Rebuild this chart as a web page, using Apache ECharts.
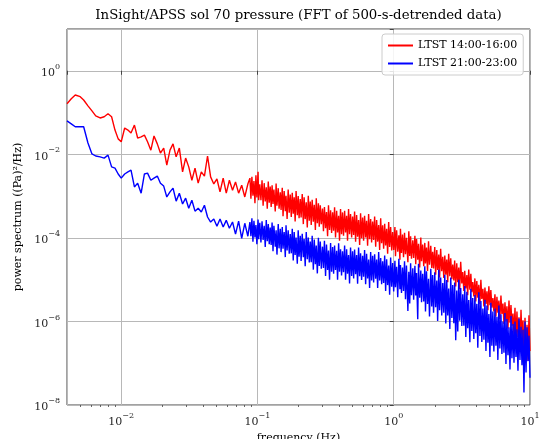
<!DOCTYPE html>
<html><head><meta charset="utf-8">
<script src="https://cdn.jsdelivr.net/npm/echarts@6/dist/echarts.min.js"></script>
<style>html,body{margin:0;padding:0;background:#fff}#c{width:539px;height:439px}</style>
</head><body><div id="c"></div>
<script>
// frequency bins (Hz)
const freqHz = [
0.0040,0.0043,0.0046,0.0050,0.0053,0.0057,0.0061,0.0065,0.0070,0.0075,
0.0080,0.0085,0.0090,0.0095,0.0100,0.0106,0.0112,0.0118,0.0125,0.0132,
0.0140,0.0148,0.0156,0.0165,0.0174,0.0184,0.0194,0.0205,0.0216,0.0228,
0.0240,0.0253,0.0267,0.0282,0.0297,0.0313,0.0330,0.0348,0.0367,0.0387,
0.0408,0.0430,0.0453,0.0478,0.0504,0.0531,0.0560,0.0590,0.0622,0.0656,
0.0690,0.0727,0.0766,0.0807,0.0850,
0.0880,0.0895,0.0910,0.0926,0.0942,0.0958,0.0974,0.0990,0.1010,0.1020,
0.104,0.106,0.108,0.110,0.112,0.114,0.116,0.118,0.120,0.122,
0.124,0.126,0.128,0.130,0.132,0.135,0.137,0.139,0.142,0.144,
0.147,0.149,0.152,0.154,0.157,0.160,0.162,0.165,0.168,0.171,
0.174,0.177,0.180,0.183,0.186,0.189,0.192,0.196,0.199,0.202,
0.206,0.209,0.213,0.217,0.220,0.224,0.228,0.232,0.236,0.240,
0.244,0.248,0.252,0.257,0.261,0.266,0.270,0.275,0.280,0.284,
0.289,0.294,
0.300,0.305,0.310,0.316,0.321,0.327,0.332,0.338,0.344,0.350,
0.356,0.362,0.368,0.374,0.381,0.387,0.394,0.400,0.407,0.414,
0.421,0.428,0.436,0.443,0.451,0.458,0.466,0.474,0.482,0.491,
0.499,0.508,0.516,0.525,0.534,0.543,0.552,0.562,0.571,0.581,
0.591,0.601,0.611,0.622,0.632,0.643,0.654,0.665,0.677,0.688,
0.700,0.712,0.724,0.737,0.749,0.762,0.775,0.788,0.802,0.815,
0.829,0.843,0.858,0.872,0.887,0.902,0.918,0.933,0.949,0.966,
0.982,0.999,1.02,1.03,1.05,1.07,1.09,1.11,1.12,1.14,
1.16,1.18,1.20,1.22,1.24,1.27,1.29,1.31,1.33,1.35,
1.38,1.40,1.43,1.45,1.47,1.50,1.52,1.55,1.58,1.60,
1.63,1.66,1.69,1.71,1.74,1.77,1.80,1.83,1.87,1.90,
1.93,1.96,2.00,2.03,2.07,2.10,2.14,2.17,2.21,2.25,
2.29,2.33,2.37,2.41,2.45,2.49,2.53,2.58,2.62,2.67,
2.71,2.76,2.80,2.85,2.90,2.95,3.00,3.05,3.10,3.16,
3.21,3.27,3.32,3.38,3.44,3.49,3.55,3.62,3.68,3.74,
3.80,3.87,3.94,4.00,4.07,4.14,4.21,4.29,4.36,4.43,
4.51,4.59,4.67,4.75,4.83,4.91,4.99,5.08,5.16,5.25,
5.34,5.43,5.53,5.62,5.72,5.81,5.91,6.01,6.12,6.22,
6.33,6.44,6.55,6.66,6.77,6.89,7.01,7.13,7.25,7.37,
7.50,7.63,7.76,7.89,8.02,8.16,8.30,8.44,8.59,8.73,
8.88,9.03,9.19,9.35,9.51,9.67,9.83,10.0
];
// log10 of power spectrum ((Pa)^2/Hz), LTST 14:00-16:00
const redLog10 = [
-0.79,-0.67,-0.58,-0.62,-0.70,-0.84,-0.96,-1.08,-1.13,-1.10,
-1.03,-1.10,-1.42,-1.63,-1.70,-1.37,-1.42,-1.49,-1.30,-1.61,
-1.58,-1.54,-1.70,-1.90,-1.56,-1.75,-1.97,-1.85,-2.26,-1.90,
-1.75,-2.06,-1.85,-2.42,-2.09,-2.30,-2.62,-2.33,-2.69,-2.42,
-2.52,-2.04,-2.54,-2.71,-2.59,-2.90,-2.57,-2.93,-2.62,-2.86,
-2.66,-2.93,-2.74,-3.02,-2.71,
-2.57,-3.06,-2.54,-2.99,-2.64,-3.17,-2.50,-3.03,-2.42,-3.10,
-2.72,-3.10,-2.62,-3.23,-2.69,-3.13,-2.79,-3.30,-2.65,-3.16,
-2.77,-3.26,-2.74,-3.19,-2.84,-3.37,-2.70,-3.23,-2.81,-3.30,
-2.91,-3.33,-2.80,-3.48,-2.88,-3.36,-2.99,-3.55,-2.84,-3.40,
-2.96,-3.50,-2.92,-3.42,-3.03,-3.61,-2.88,-3.46,-3.00,-3.53,
-3.07,-3.51,-2.95,-3.67,-3.03,-3.55,-3.15,-3.75,-2.99,-3.59,
-3.13,-3.69,-3.09,-3.61,-3.21,-3.81,-3.05,-3.65,-3.17,-3.73,
-3.22,-3.67,
-3.30,-3.84,-3.26,-3.77,-3.38,-3.96,-3.22,-3.81,-3.34,-3.88,
-3.39,-3.83,-3.27,-3.99,-3.35,-3.87,-3.47,-4.07,-3.31,-3.91,
-3.39,-3.95,-3.35,-3.87,-3.47,-4.07,-3.31,-3.91,-3.43,-3.99,
-3.49,-3.93,-3.37,-4.09,-3.45,-3.97,-3.57,-4.17,-3.41,-4.01,
-3.51,-4.07,-3.47,-3.99,-3.59,-4.19,-3.43,-4.03,-3.55,-4.11,
-3.61,-4.05,-3.49,-4.21,-3.57,-4.09,-3.69,-4.29,-3.53,-4.13,
-3.70,-4.26,-3.66,-4.18,-3.78,-4.38,-3.62,-4.22,-3.74,-4.30,
-3.86,-4.29,-3.74,-4.44,-3.82,-4.33,-3.94,-4.52,-3.78,-4.36,
-3.92,-4.46,-3.88,-4.39,-4.00,-4.58,-3.84,-4.43,-3.96,-4.50,
-4.06,-4.48,-3.95,-4.63,-4.03,-4.52,-4.14,-4.71,-3.99,-4.56,
-4.16,-4.68,-4.12,-4.61,-4.23,-4.79,-4.08,-4.64,-4.19,-4.72,
-4.33,-4.73,-4.22,-4.88,-4.29,-4.77,-4.40,-4.95,-4.26,-4.80,
-4.45,-4.96,-4.42,-4.88,-4.52,-5.06,-4.38,-4.92,-4.49,-4.99,
-4.64,-5.02,-4.54,-5.16,-4.61,-5.06,-4.71,-5.23,-4.57,-5.09,
-4.82,-5.27,-4.79,-5.21,-4.89,-5.37,-4.76,-5.24,-4.86,-5.30,
-5.06,-5.40,-4.97,-5.52,-5.03,-5.43,-5.12,-5.58,-5.00,-5.46,
-5.22,-5.64,-5.19,-5.58,-5.28,-5.73,-5.16,-5.61,-5.25,-5.67,
-5.44,-5.76,-5.35,-5.88,-5.41,-5.79,-5.50,-5.94,-5.38,-5.82,
-5.57,-6.06,-5.54,-5.99,-5.64,-6.17,-5.50,-6.03,-5.61,-6.10,
-5.81,-6.32,-5.67,-6.51,-5.76,-6.37,-5.90,-6.60,-5.72,-6.41,
-5.97,-6.77,-5.91,-6.66,-6.08,-6.94,-5.85,-6.71
];
// log10 of power spectrum ((Pa)^2/Hz), LTST 21:00-23:00
const blueLog10 = [
-1.20,-1.27,-1.34,-1.34,-1.34,-1.73,-1.99,-2.04,-2.06,-2.09,
-2.02,-2.30,-2.33,-2.47,-2.57,-2.47,-2.42,-2.38,-2.78,-2.69,
-2.93,-2.47,-2.45,-2.62,-2.57,-2.52,-2.69,-2.76,-3.02,-2.90,
-2.81,-3.12,-2.93,-3.19,-3.05,-3.29,-3.10,-3.36,-3.29,-3.38,
-3.22,-3.50,-3.62,-3.55,-3.72,-3.55,-3.74,-3.58,-3.77,-3.62,
-3.91,-3.60,-4.01,-3.65,-3.96,
-3.62,-3.96,-3.53,-4.09,-3.59,-3.99,-3.69,-4.15,-3.56,-4.03,
-3.64,-4.11,-3.60,-4.05,-3.71,-4.22,-3.57,-4.08,-3.67,-4.15,
-3.75,-4.17,-3.63,-4.32,-3.71,-4.21,-3.82,-4.40,-3.67,-4.25,
-3.78,-4.34,-3.74,-4.26,-3.86,-4.46,-3.70,-4.30,-3.82,-4.38,
-3.91,-4.37,-3.78,-4.54,-3.86,-4.41,-3.99,-4.62,-3.82,-4.45,
-3.95,-4.55,-3.90,-4.46,-4.03,-4.68,-3.86,-4.51,-3.99,-4.59,
-4.09,-4.58,-3.95,-4.76,-4.04,-4.63,-4.18,-4.85,-4.00,-4.67,
-4.09,-4.74,
-4.21,-4.72,-4.07,-4.91,-4.16,-4.77,-4.30,-5.00,-4.12,-4.81,
-4.22,-4.86,-4.18,-4.77,-4.31,-5.00,-4.13,-4.81,-4.27,-4.90,
-4.32,-4.82,-4.18,-5.00,-4.27,-4.86,-4.41,-5.09,-4.23,-4.91,
-4.32,-4.97,-4.28,-4.87,-4.41,-5.10,-4.23,-4.92,-4.37,-5.01,
-4.43,-4.93,-4.29,-5.11,-4.38,-4.97,-4.52,-5.20,-4.34,-5.02,
-4.43,-5.07,-4.39,-4.98,-4.52,-5.20,-4.34,-5.02,-4.48,-5.11,
-4.56,-5.08,-4.42,-5.27,-4.51,-5.13,-4.66,-5.36,-4.47,-5.17,
-4.60,-5.28,-4.55,-5.18,-4.69,-5.42,-4.50,-5.23,-4.65,-5.32,
-4.71,-5.27,-4.56,-5.47,-4.66,-5.75,-4.81,-5.57,-4.61,-5.37,
-4.73,-5.48,-4.67,-5.38,-4.84,-5.95,-4.62,-5.43,-4.78,-5.54,
-4.86,-5.52,-4.68,-5.76,-4.80,-5.58,-4.98,-5.88,-4.74,-5.64,
-4.89,-5.79,-4.82,-5.66,-5.02,-5.99,-4.76,-5.73,-4.95,-5.86,
-5.08,-5.79,-4.88,-6.05,-5.01,-5.86,-5.21,-6.18,-4.95,-5.92,
-5.13,-6.04,-5.07,-6.45,-5.26,-6.24,-5.00,-5.98,-5.20,-6.11,
-5.35,-6.10,-5.15,-6.37,-5.29,-6.16,-5.49,-6.50,-5.22,-6.23,
-5.44,-6.42,-5.37,-6.28,-5.58,-6.63,-5.30,-6.35,-5.51,-6.49,
-5.69,-6.44,-5.48,-6.71,-5.62,-6.51,-5.82,-6.85,-5.55,-6.58,
-5.76,-6.72,-5.69,-6.58,-5.89,-6.92,-5.62,-6.65,-5.83,-6.78,
-6.00,-6.75,-5.80,-7.02,-5.94,-6.81,-6.14,-7.15,-5.87,-6.88,
-6.06,-6.99,-6.00,-6.85,-6.19,-7.18,-5.93,-6.92,-6.13,-7.05,
-6.20,-7.70,-6.00,-7.22,-6.14,-6.95,-6.34,-7.35
];
const seriesNames = ['LTST 14:00-16:00', 'LTST 21:00-23:00'];
const seriesColors = ['#ff0000', '#0000ff'];
const titleText = 'InSight/APSS sol 70 pressure (FFT of 500-s-detrended data)';
const xAxisName = 'frequency (Hz)';
const yAxisName = 'power spectrum ((Pa)\u00B2/Hz)';
const xRange = [0.004, 10];
const yExpRange = [-8, 1];
const yExpStep = 2;
// minor tick positions on the frequency axis (Hz)
const xMinorTicks = [0.005,0.006,0.007,0.008,0.009,0.02,0.03,0.04,0.05,0.06,0.07,0.08,0.09,
  0.2,0.3,0.4,0.5,0.6,0.7,0.8,0.9,2,3,4,5,6,7,8,9];

const FONT = 'DejaVu Serif';
function supLabel(exp) {
  const e = exp < 0 ? '\u2212' + (-exp) : String(exp);
  return '{b|10}{e|' + e + '}';
}
const richLab = {
  b: {fontFamily: FONT, fontSize: 11, color: '#262626', lineHeight: 16, verticalAlign: 'bottom'},
  e: {fontFamily: FONT, fontSize: 8, color: '#262626', lineHeight: 16, verticalAlign: 'top'}
};

const chart = echarts.init(document.getElementById('c'), null, {renderer: 'canvas'});
chart.setOption({
  animation: false,
  backgroundColor: '#ffffff',
  graphic: [{
    type: 'text', x: 298.5, y: 16, silent: true,
    style: {text: titleText, font: '13.3px "DejaVu Serif"', fill: '#000', align: 'center', verticalAlign: 'middle'}
  }],
  grid: {left: 67, right: 9, top: 29, bottom: 34, containLabel: false, outerBoundsMode: 'none',
         show: true, borderColor: '#444', borderWidth: 1, backgroundColor: 'transparent'},
  legend: {
    orient: 'vertical', left: 382, top: 34, itemWidth: 25, itemHeight: 2, itemGap: 7,
    padding: [6, 6, 6, 6], backgroundColor: 'rgba(255,255,255,0.85)', borderColor: '#cccccc',
    borderWidth: 1, borderRadius: 3, icon: 'rect',
    textStyle: {fontFamily: FONT, fontSize: 11, color: '#000'},
    data: seriesNames
  },
  xAxis: [{
    type: 'log', min: xRange[0], max: xRange[1], logBase: 10, position: 'bottom',
    name: xAxisName, nameLocation: 'middle', nameGap: 26,
    nameTextStyle: {fontFamily: FONT, fontSize: 11, color: '#000'},
    axisLine: {show: false},
    axisTick: {show: true, inside: false, length: 4, lineStyle: {color: '#444'}},
    splitLine: {show: true, lineStyle: {color: '#b8b8b8', width: 1}},
    axisLabel: {
      margin: 7, rich: richLab,
      formatter: function (v) {
        const l = Math.log10(v);
        const r = Math.round(l);
        if (Math.abs(l - r) > 1e-6) return '';
        return supLabel(r);
      }
    }
  }, {
    // overlay axis (log10 units) carrying only the minor ticks
    type: 'value', position: 'bottom', offset: 0,
    min: Math.log10(xRange[0]), max: Math.log10(xRange[1]),
    axisLine: {show: false}, splitLine: {show: false}, axisLabel: {show: false},
    axisTick: {show: true, inside: false, length: 2, lineStyle: {color: '#444', width: 0.8},
               customValues: xMinorTicks.map(v => Math.log10(v))}
  }],
  yAxis: {
    type: 'value', min: yExpRange[0], max: yExpRange[1], interval: yExpStep,
    name: yAxisName, nameLocation: 'middle', nameGap: 40,
    nameTextStyle: {fontFamily: FONT, fontSize: 11, color: '#000'},
    axisLine: {show: false},
    axisTick: {show: true, inside: false, length: 4, lineStyle: {color: '#444'}},
    splitLine: {show: true, lineStyle: {color: '#b8b8b8', width: 1}},
    axisLabel: {
      margin: 7, rich: richLab,
      formatter: function (v) {
        if (Math.abs(v - Math.round(v)) > 1e-6 || v > 0.5) return '';
        return supLabel(Math.round(v));
      }
    }
  },
  series: [
    {name: seriesNames[0], type: 'line', xAxisIndex: 0, showSymbol: false, symbol: 'none', clip: true,
     lineStyle: {color: seriesColors[0], width: 1.4}, itemStyle: {color: seriesColors[0]},
     data: freqHz.map((f, i) => [f, redLog10[i]])},
    {name: seriesNames[1], type: 'line', xAxisIndex: 0, showSymbol: false, symbol: 'none', clip: true,
     lineStyle: {color: seriesColors[1], width: 1.4}, itemStyle: {color: seriesColors[1]},
     data: freqHz.map((f, i) => [f, blueLog10[i]])}
  ]
});
</script>
</body></html>
